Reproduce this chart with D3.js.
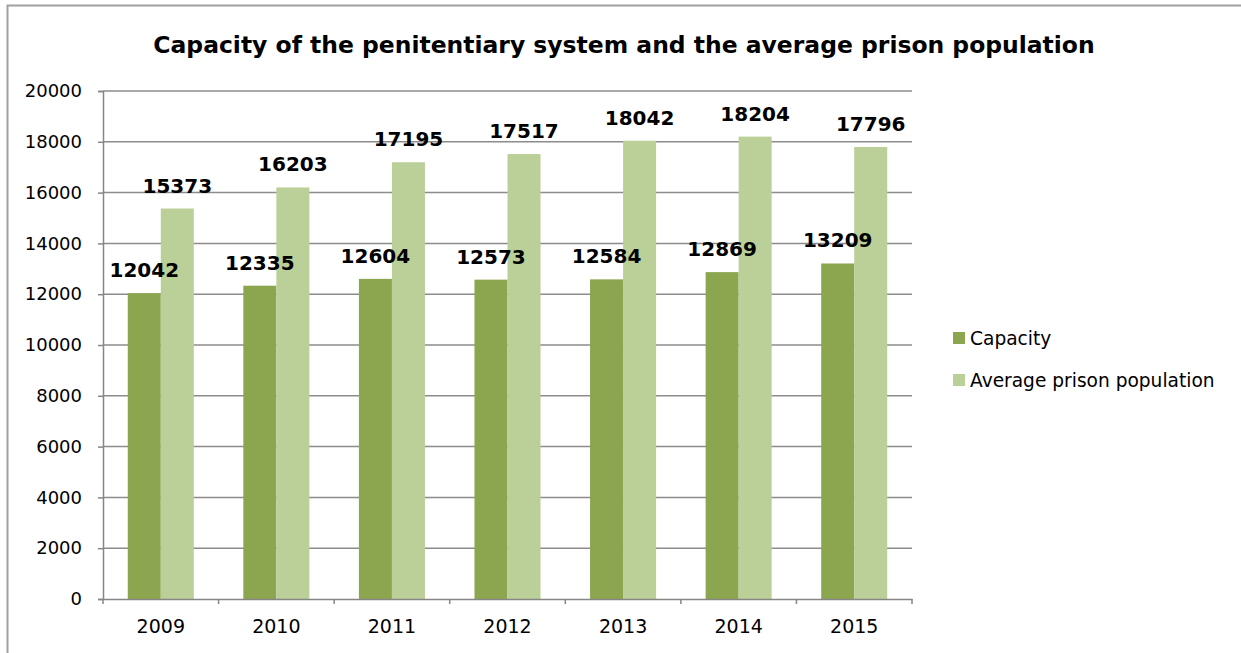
<!DOCTYPE html>
<html lang="en">
<head>
    <meta charset="UTF-8">
    <title>Capacity of the penitentiary system and the average prison population</title>
    <style>
        body, html {
            margin: 0;
            padding: 0;
            background: white;
            font-family: "DejaVu Sans", Verdana, sans-serif;
        }
        #chart {
            width: 1241px;
            height: 653px;
        }
    </style>
    <script src="https://cdnjs.cloudflare.com/ajax/libs/d3/7.8.5/d3.min.js"></script>
</head>
<body>
    <div id="chart"></div>
    <script>
        const years = ["2009", "2010", "2011", "2012", "2013", "2014", "2015"];
        const capacity = [12042, 12335, 12604, 12573, 12584, 12869, 13209];
        const population = [15373, 16203, 17195, 17517, 18042, 18204, 17796];
        const seriesNames = ["Capacity", "Average prison population"];
        const seriesColors = ["#8ca64f", "#bbcf98"];
        const yTicks = [0, 2000, 4000, 6000, 8000, 10000, 12000, 14000, 16000, 18000, 20000];

        const width = 1241, height = 653;
        const svg = d3.select("#chart").append("svg")
            .attr("width", width)
            .attr("height", height)
            .style("display", "block");

        // outer chart border (only left/top visible in the picture)
        svg.append("rect")
            .attr("x", 7.5).attr("y", 5.5)
            .attr("width", 1300).attr("height", 700)
            .attr("fill", "none")
            .attr("stroke", "#a0a0a0")
            .attr("stroke-width", 2);

        const x0 = 103, x1 = 912;
        const y = d3.scaleLinear().domain([0, 20000]).range([599, 91]);
        const x = d3.scaleBand().domain(years).range([x0, x1]).padding(0);
        // Excel-style gap width ~150%
        const bw = x.bandwidth() / (2 + 1.5);
        const xs = d3.scaleBand().domain(seriesNames)
            .range([bw * 0.75, bw * 0.75 + bw * 2]).padding(0);

        // gridlines
        svg.append("g")
            .selectAll("line")
            .data(yTicks.filter(d => d > 0))
            .join("line")
            .attr("x1", x0).attr("x2", x1)
            .attr("y1", d => y(d)).attr("y2", d => y(d))
            .attr("stroke", "#8c8c8c")
            .attr("stroke-width", 1.5);

        // bars
        const data = years.map((yr, i) => ({ year: yr, values: [capacity[i], population[i]] }));
        const groups = svg.append("g").selectAll("g")
            .data(data)
            .join("g")
            .attr("transform", d => `translate(${x(d.year)},0)`);

        groups.selectAll("rect")
            .data(d => d.values.map((v, j) => ({ name: seriesNames[j], value: v, j })))
            .join("rect")
            .attr("x", d => xs(d.name))
            .attr("width", xs.bandwidth())
            .attr("y", d => y(d.value))
            .attr("height", d => y(0) - y(d.value))
            .attr("fill", d => seriesColors[d.j]);

        groups.selectAll("text")
            .data(d => d.values.map((v, j) => ({ name: seriesNames[j], value: v })))
            .join("text")
            .attr("x", d => xs(d.name) + xs.bandwidth() / 2)
            .attr("y", d => y(d.value) - 16)
            .attr("text-anchor", "middle")
            .attr("font-weight", "bold")
            .attr("font-size", "20px")
            .attr("fill", "#000")
            .text(d => d.value);

        // y axis
        const yAxis = svg.append("g").attr("transform", `translate(${x0},0)`)
            .call(d3.axisLeft(y).tickValues(yTicks).tickSize(5).tickPadding(16).tickFormat(d3.format("d")));
        yAxis.select(".domain").attr("stroke", "#868686").attr("stroke-width", 1.5);
        yAxis.selectAll(".tick line").attr("stroke", "#868686").attr("stroke-width", 1.5);
        yAxis.selectAll(".tick text")
            .attr("font-family", "DejaVu Sans")
            .attr("font-size", "18px")
            .attr("fill", "#000");

        // x axis
        const xAxis = svg.append("g").attr("transform", `translate(0,${y(0)})`)
            .call(d3.axisBottom(x).tickSize(0).tickPadding(21));
        xAxis.select(".domain").attr("stroke", "#868686").attr("stroke-width", 1.5);
        xAxis.selectAll(".tick text")
            .attr("font-family", "DejaVu Sans")
            .attr("font-size", "19px")
            .attr("fill", "#000");
        // tick marks at category boundaries
        xAxis.append("g").selectAll("line")
            .data(years.map(d => x(d)).concat([x1]))
            .join("line")
            .attr("x1", d => d).attr("x2", d => d)
            .attr("y1", 0).attr("y2", 5)
            .attr("stroke", "#868686")
            .attr("stroke-width", 1.5);

        // title
        const title = svg.append("text")
            .attr("x", 624).attr("y", 53)
            .attr("text-anchor", "middle")
            .attr("font-weight", "bold")
            .attr("font-size", "22px")
            .attr("fill", "#000")
            .text("Capacity of the penitentiary system and the average prison population");
        const tw = title.node().getComputedTextLength();
        title.attr("font-size", (22 * 942 / tw) + "px");

        // legend
        const legend = svg.append("g").attr("transform", "translate(953,332)");
        seriesNames.forEach((name, i) => {
            const g = legend.append("g").attr("transform", `translate(0,${i * 42})`);
            g.append("rect").attr("width", 12).attr("height", 12).attr("fill", seriesColors[i]);
            g.append("text")
                .attr("x", 17).attr("y", 13)
                .attr("font-size", "18.6px")
                .attr("fill", "#000")
                .text(name);
        });
    </script>
</body>
</html>
